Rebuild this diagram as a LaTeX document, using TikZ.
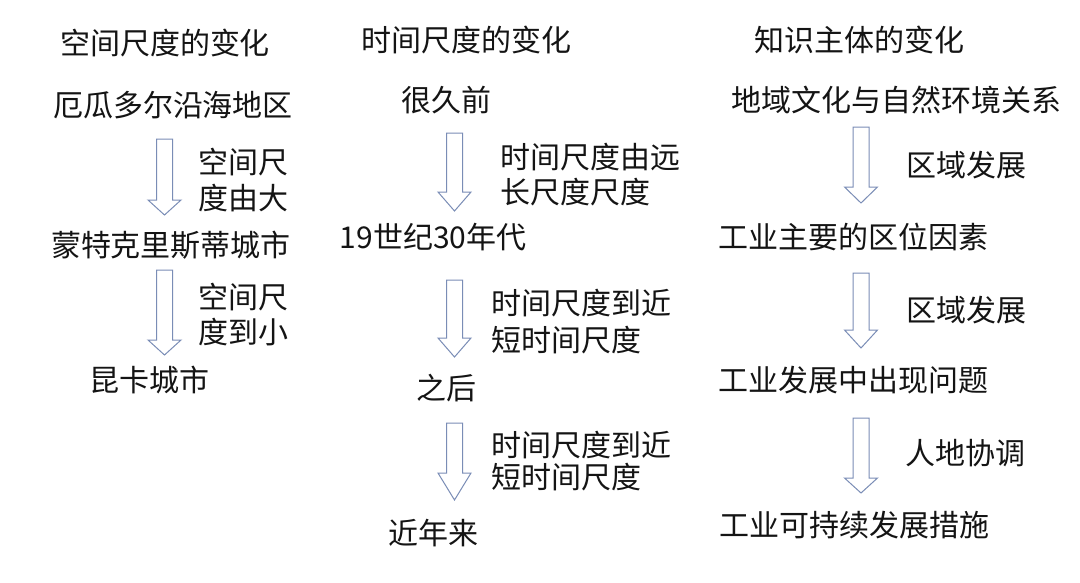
\documentclass[tikz,border=0pt]{standalone}
\usepackage{fontspec}
\setmainfont{Noto Sans CJK SC}
\definecolor{arrowc}{RGB}{122,141,182}
\definecolor{txtc}{RGB}{20,20,20}
\newcommand{\blkarrow}[5]{%
  \draw[arrowshape] ({#2-8},#3) -- ({#2+8},#3) -- ({#2+8},#4) -- ({#2+16.5},#4)
    -- (#2,#5) coordinate (#1) -- ({#2-16.5},#4) -- ({#2-8},#4) -- ({#2-8},#3) -- cycle;}
\begin{document}
\begin{tikzpicture}[x=1pt,y=-1pt,
  txt/.style={inner sep=0pt,outer sep=0pt,text=txtc,font=\fontsize{30}{36}\selectfont},
  lbl/.style={txt,anchor=west},
  arrowshape/.style={draw=arrowc,line width=1pt,fill=white,line join=miter}]
\fill[white] (0,0) rectangle (1080,582);
\useasboundingbox (0,0) rectangle (1080,582);
% column 1
\node[txt] (h1) at (165,43) {空间尺度的变化};
\node[txt] (a1) at (173,105) {厄瓜多尔沿海地区};
\blkarrow{t1}{164.5}{139}{200}{215}
\node[lbl] (l1a) at (198,162) {空间尺};
\node[lbl] (l1b) at (198,198) {度由大};
\node[txt] (a2) at (171,245) {蒙特克里斯蒂城市};
\blkarrow{t2}{164.5}{270}{340}{355}
\node[lbl] (l2a) at (198,297) {空间尺};
\node[lbl] (l2b) at (198,332) {度到小};
\node[txt] (a3) at (149,380) {昆卡城市};
% column 2
\node[txt] (h2) at (466,40) {时间尺度的变化};
\node[txt] (b1) at (446,100) {很久前};
\blkarrow{t3}{454.5}{133}{192}{211}
\node[lbl] (l3a) at (500,157) {时间尺度由远};
\node[lbl] (l3b) at (500,192) {长尺度尺度};
\node[txt] (b2) at (433,237) {19世纪30年代};
\blkarrow{t4}{454.5}{280}{338}{357}
\node[lbl] (l4a) at (491,303) {时间尺度到近};
\node[lbl] (l4b) at (491,340) {短时间尺度};
\node[txt] (b3) at (446,388) {之后};
\blkarrow{t5}{454.5}{423}{473}{500}
\node[lbl] (l5a) at (491,445) {时间尺度到近};
\node[lbl] (l5b) at (491,477) {短时间尺度};
\node[txt] (b4) at (433,533) {近年来};
% column 3
\node[txt] (h3) at (859,40) {知识主体的变化};
\node[txt] (c1) at (896,100) {地域文化与自然环境关系};
\blkarrow{t6}{861}{127}{187}{203}
\node[lbl] (l6) at (906,165) {区域发展};
\node[txt] (c2) at (853.5,237) {工业主要的区位因素};
\blkarrow{t7}{861}{273}{330}{348}
\node[lbl] (l7) at (906,310) {区域发展};
\node[txt] (c3) at (853.5,380) {工业发展中出现问题};
\blkarrow{t8}{861}{418}{478}{493}
\node[lbl] (l8) at (905,453) {人地协调};
\node[txt] (c4) at (854.5,525) {工业可持续发展措施};
\end{tikzpicture}
\end{document}
